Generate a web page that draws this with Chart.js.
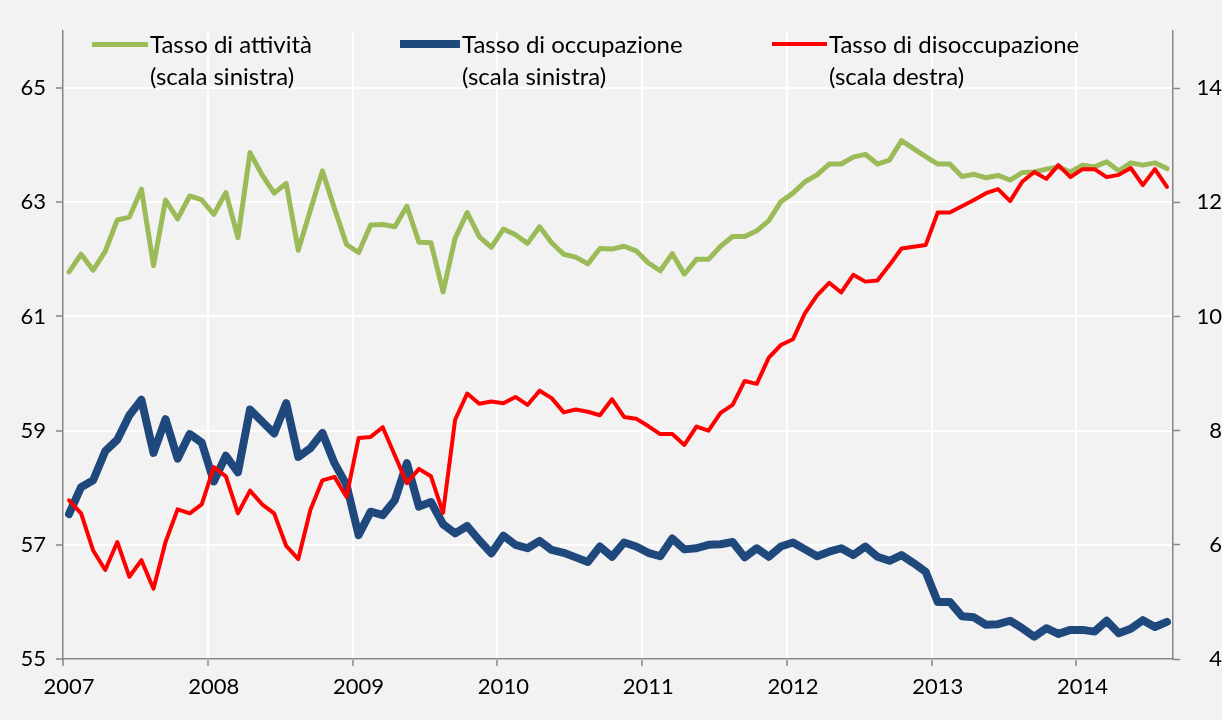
<!DOCTYPE html>
<html>
<head>
<meta charset="utf-8">
<script src="https://cdn.jsdelivr.net/npm/chart.js@4/dist/chart.umd.min.js"></script>
<style>
    body { margin: 0; background: #f2f2f2; }
    #wrap { position: relative; width: 1222px; height: 720px; }
    #legend { position: absolute; left: 0; top: 0; font-family: Lato, sans-serif; font-size: 24px; color: #000; }
    .leg-line { position: absolute; }
    .leg-text { position: absolute; line-height: 32px; white-space: nowrap; }
</style>
</head>
<body>
<div id="wrap">
    <canvas id="chart" width="1222" height="720"></canvas>
    <div id="legend"></div>
</div>
<script>
var years = ['2007', '2008', '2009', '2010', '2011', '2012', '2013', '2014'];
var monthsLastYear = 8;

var leftTicks = [55, 57, 59, 61, 63, 65];
var rightTicks = [4, 6, 8, 10, 12, 14];

// tasso di attivita (scala sinistra)
var attivita = [
    61.78, 62.09, 61.81, 62.14, 62.69, 62.74, 63.23, 61.89, 63.04, 62.71, 63.11, 63.04,
    62.79, 63.17, 62.38, 63.87, 63.48, 63.16, 63.33, 62.16, 62.86, 63.55, 62.89, 62.26,
    62.12, 62.60, 62.61, 62.57, 62.93, 62.30, 62.29, 61.43, 62.37, 62.82, 62.40, 62.21,
    62.53, 62.43, 62.28, 62.57, 62.29, 62.09, 62.04, 61.92, 62.19, 62.18, 62.23, 62.15,
    61.94, 61.80, 62.10, 61.74, 62.00, 62.00, 62.23, 62.40, 62.40, 62.50, 62.68, 63.01,
    63.16, 63.36, 63.48, 63.67, 63.67, 63.79, 63.84, 63.67, 63.74, 64.08, 63.94, 63.80,
    63.67, 63.67, 63.45, 63.49, 63.43, 63.47, 63.39, 63.52, 63.53, 63.58, 63.62, 63.53,
    63.65, 63.62, 63.71, 63.55, 63.69, 63.65, 63.69, 63.59
];

// tasso di occupazione (scala sinistra)
var occupazione = [
    57.54, 58.01, 58.13, 58.64, 58.84, 59.27, 59.54, 58.61, 59.20, 58.51, 58.94, 58.79,
    58.11, 58.56, 58.27, 59.37, 59.16, 58.95, 59.48, 58.54, 58.69, 58.96, 58.43, 58.05,
    57.17, 57.58, 57.52, 57.78, 58.43, 57.67, 57.75, 57.36, 57.20, 57.33, 57.08, 56.85,
    57.16, 57.00, 56.94, 57.07, 56.91, 56.86, 56.78, 56.70, 56.97, 56.79, 57.04, 56.97,
    56.86, 56.80, 57.11, 56.92, 56.94, 57.00, 57.01, 57.05, 56.78, 56.94, 56.79, 56.97,
    57.04, 56.92, 56.80, 56.88, 56.94, 56.82, 56.97, 56.79, 56.72, 56.82, 56.68, 56.53,
    56.00, 56.00, 55.75, 55.73, 55.60, 55.61, 55.67, 55.54, 55.39, 55.54, 55.44, 55.51,
    55.51, 55.48, 55.67, 55.45, 55.53, 55.68, 55.56, 55.65
];

// tasso di disoccupazione (scala destra)
var disoccupazione = [
    6.78, 6.55, 5.90, 5.56, 6.05, 5.44, 5.73, 5.23, 6.05, 6.62, 6.55, 6.71,
    7.36, 7.20, 6.55, 6.95, 6.71, 6.55, 5.98, 5.75, 6.61, 7.13, 7.19, 6.84,
    7.87, 7.89, 8.06, 7.57, 7.08, 7.33, 7.20, 6.56, 8.19, 8.65, 8.47, 8.51,
    8.48, 8.59, 8.45, 8.70, 8.57, 8.32, 8.37, 8.33, 8.27, 8.55, 8.24, 8.21,
    8.08, 7.94, 7.94, 7.75, 8.07, 8.00, 8.31, 8.45, 8.87, 8.82, 9.28, 9.50,
    9.60, 10.06, 10.37, 10.59, 10.42, 10.73, 10.61, 10.63, 10.90, 11.19, 11.22, 11.25,
    11.82, 11.82, 11.93, 12.04, 12.16, 12.23, 12.02, 12.36, 12.53, 12.41, 12.65, 12.44,
    12.58, 12.58, 12.44, 12.48, 12.60, 12.30, 12.58, 12.27
];

var legendItems = [
    {lines: ['Tasso di attività', '(scala sinistra)'], color: '#9bbb59', width: 5, x0: 92, x1: 148, textX: 150},
    {lines: ['Tasso di occupazione', '(scala sinistra)'], color: '#1f497d', width: 8, x0: 400, x1: 460, textX: 462},
    {lines: ['Tasso di disoccupazione', '(scala destra)'], color: '#ff0000', width: 4, x0: 772, x1: 827, textX: 829}
];

var initChart = function() {
    // one label per month, year on january
    var labels = [];
    years.forEach(function(y, k) {
        var n = k === years.length - 1 ? monthsLastYear : 12;
        for (var m = 1; m <= n; m++) {
            labels.push(y + '-' + (m < 10 ? '0' + m : m));
        }
    });

    var axisColor = '#868686';
    var tickFont = {family: 'Lato, sans-serif', size: 22};

    var yearGrid = function(c) {
        return (c.index !== undefined && c.index % 12 === 0 && c.index > 0) ? '#ffffff' : 'rgba(0,0,0,0)';
    };
    var yearTick = function(c) {
        return (c.index !== undefined && c.index % 12 === 0) ? axisColor : 'rgba(0,0,0,0)';
    };

    var ctx = document.getElementById('chart').getContext('2d');
    new Chart(ctx, {
        type: 'line',
        data: {
            labels: labels,
            datasets: [
                {data: disoccupazione, yAxisID: 'y1', borderColor: '#ff0000', borderWidth: 4, order: 0},
                {data: occupazione, yAxisID: 'y', borderColor: '#1f497d', borderWidth: 8, order: 1},
                {data: attivita, yAxisID: 'y', borderColor: '#9bbb59', borderWidth: 5, order: 2}
            ]
        },
        options: {
            responsive: false,
            animation: false,
            layout: {padding: {top: 31, left: 0, right: 0, bottom: 0}},
            elements: {
                point: {radius: 0},
                line: {tension: 0, borderJoinStyle: 'round', borderCapStyle: 'round', fill: false}
            },
            plugins: {legend: {display: false}, tooltip: {enabled: false}},
            scales: {
                x: {
                    type: 'category',
                    offset: true,
                    afterFit: function(s) { s.height = 61; },
                    border: {color: axisColor, width: 1.5},
                    grid: {offset: true, color: yearGrid, tickColor: yearTick, lineWidth: 2, tickWidth: 1.5, tickLength: 7},
                    ticks: {
                        autoSkip: false,
                        maxRotation: 0,
                        padding: 8,
                        color: '#000',
                        font: tickFont,
                        callback: function(v, i) {
                            var l = this.getLabelForValue(v);
                            return l.slice(5) === '01' ? l.slice(0, 4) : '';
                        }
                    }
                },
                y: {
                    position: 'left',
                    min: 55,
                    max: 66,
                    afterFit: function(s) { s.width = 63; },
                    afterBuildTicks: function(s) { s.ticks = leftTicks.map(function(v) { return {value: v}; }); },
                    border: {color: axisColor, width: 1.5},
                    grid: {color: '#ffffff', lineWidth: 2, tickColor: axisColor, tickWidth: 1.5, tickLength: 7},
                    ticks: {padding: 10, color: '#000', font: tickFont}
                },
                y1: {
                    position: 'right',
                    min: 4,
                    max: 15,
                    afterFit: function(s) { s.width = 49; },
                    afterBuildTicks: function(s) { s.ticks = rightTicks.map(function(v) { return {value: v}; }); },
                    border: {color: axisColor, width: 1.5},
                    grid: {drawOnChartArea: false, tickColor: axisColor, tickWidth: 1.5, tickLength: 7},
                    ticks: {padding: 4, crossAlign: 'far', color: '#000', font: tickFont}
                }
            }
        }
    });

    // legend as html over the plot
    var legend = document.getElementById('legend');
    legendItems.forEach(function(item) {
        var line = document.createElement('div');
        line.className = 'leg-line';
        line.style.left = item.x0 + 'px';
        line.style.width = (item.x1 - item.x0) + 'px';
        line.style.top = (44 - item.width / 2) + 'px';
        line.style.height = item.width + 'px';
        line.style.background = item.color;
        legend.appendChild(line);

        var text = document.createElement('div');
        text.className = 'leg-text';
        text.style.left = item.textX + 'px';
        text.style.top = '28px';
        text.innerHTML = item.lines.join('<br>');
        legend.appendChild(text);
    });
};

window.onload = initChart;
</script>
</body>
</html>
